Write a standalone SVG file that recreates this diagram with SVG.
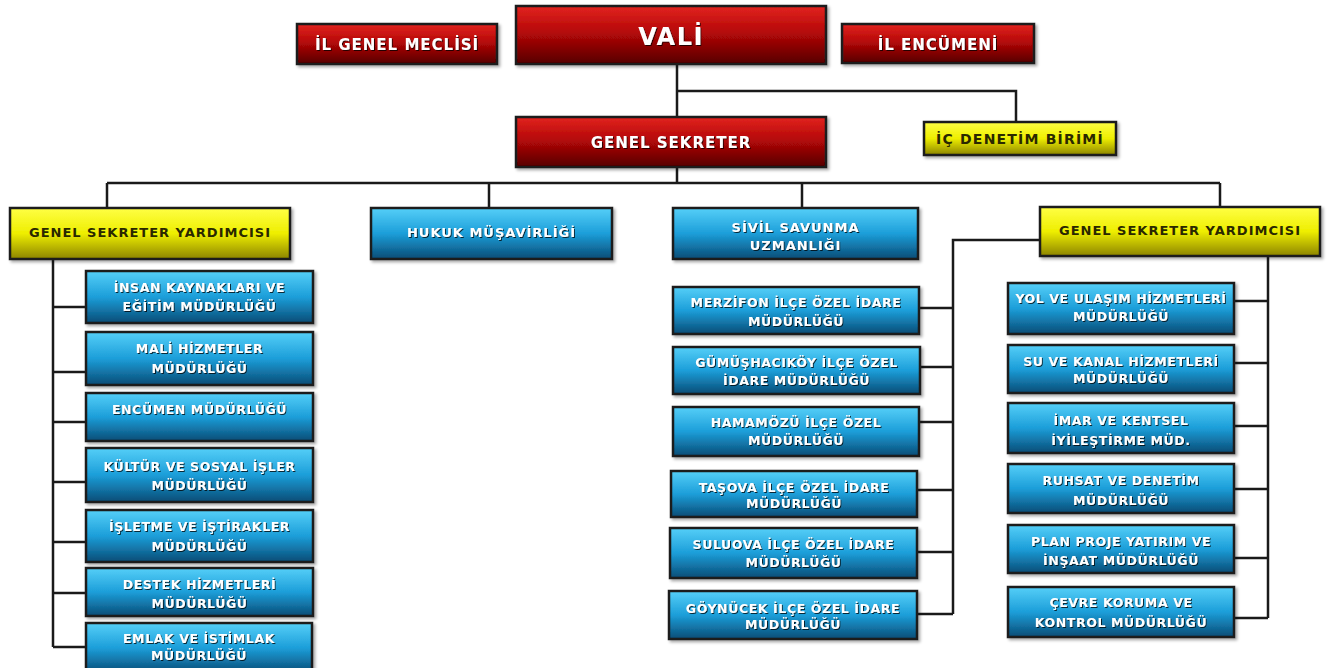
<svg xmlns="http://www.w3.org/2000/svg" width="1339" height="668" viewBox="0 0 1339 668">
<defs>
<linearGradient id="gRed" x1="0" y1="0" x2="0" y2="1">
<stop offset="0" stop-color="#e2241f"/><stop offset="0.45" stop-color="#b50808"/><stop offset="1" stop-color="#560000"/>
</linearGradient>
<linearGradient id="gBlue" x1="0" y1="0" x2="0" y2="1">
<stop offset="0" stop-color="#55cff8"/><stop offset="0.5" stop-color="#1c9ed9"/><stop offset="1" stop-color="#0a4c76"/>
</linearGradient>
<linearGradient id="gYel" x1="0" y1="0" x2="0" y2="1">
<stop offset="0" stop-color="#ffff45"/><stop offset="0.5" stop-color="#eeee00"/><stop offset="1" stop-color="#8c8400"/>
</linearGradient>
<filter id="sh" x="-5%" y="-10%" width="115%" height="130%">
<feDropShadow dx="2" dy="2" stdDeviation="1.5" flood-color="#000" flood-opacity="0.35"/>
</filter>
<filter id="tsh" x="-5%" y="-20%" width="110%" height="150%">
<feDropShadow dx="1" dy="1" stdDeviation="0.6" flood-color="#000" flood-opacity="0.75"/>
</filter>
</defs>
<style>
rect{stroke:#1a1a1a;stroke-width:2.5;filter:url(#sh)}
.r{fill:url(#gRed)}
.b{fill:url(#gBlue)}
.y{fill:url(#gYel)}
text{font-family:"DejaVu Sans","Liberation Sans",sans-serif;font-weight:bold;text-anchor:middle}
.tw{fill:#ffffff;filter:url(#tsh)}
.td{fill:#2a2800}
.big{font-size:15px;letter-spacing:1px}
.vali{font-size:24px;letter-spacing:1.5px}
.m{font-size:13px;letter-spacing:1px}
.s{font-size:12.5px;letter-spacing:0.6px}
#connectors path{fill:none;stroke:#1a1a1a;stroke-width:2.5}
</style>
<rect x="0" y="0" width="1339" height="668" fill="#ffffff" style="stroke:none;filter:none"/>
<g id="connectors">
<path d="M677 64V117M677 91H1016V122M677 167V183M107 183H1220M107 183V208M489 183V208M802 183V208M1220 183V207"/>
<path d="M53 259V647M53 307H86M53 372H86M53 422H86M53 482H86M53 542H86M53 593H86M53 647H86"/>
<path d="M1040 240H953V614M919 308H953M920 367H953M919 422H953M917 490H953M917 552H953M917 614H953"/>
<path d="M1268 256V618M1234 301H1268M1234 363H1268M1234 426H1268M1234 489H1268M1234 558H1268M1234 618H1268"/>
</g>
<g id="il-genel-meclisi"><rect class="r" x="297" y="24" width="200" height="40"/><text class="tw big" x="397" y="50">İL GENEL MECLİSİ</text></g>
<g id="vali"><rect class="r" x="516" y="6" width="310" height="58"/><text class="tw vali" x="671" y="45">VALİ</text></g>
<g id="il-encumeni"><rect class="r" x="842" y="24" width="192" height="39"/><text class="tw big" x="938" y="50">İL ENCÜMENİ</text></g>
<g id="genel-sekreter"><rect class="r" x="516" y="117" width="310" height="50"/><text class="tw big" x="671" y="148">GENEL SEKRETER</text></g>
<g id="ic-denetim-birimi"><rect class="y" x="924" y="122" width="192" height="33"/><text class="td" x="1020" y="143.5" style="font-size:14px;letter-spacing:1.2px">İÇ DENETİM BİRİMİ</text></g>
<g id="gsy-sol"><rect class="y" x="10" y="208" width="280" height="51"/><text class="td m" x="150" y="237">GENEL SEKRETER YARDIMCISI</text></g>
<g id="hukuk"><rect class="b" x="371" y="208" width="241" height="51"/><text class="tw m" x="491.5" y="237">HUKUK MÜŞAVİRLİĞİ</text></g>
<g id="sivil-savunma"><rect class="b" x="673" y="208" width="245" height="51"/><text class="tw m" x="795.5" y="232">SİVİL SAVUNMA</text><text class="tw m" x="795.5" y="250">UZMANLIĞI</text></g>
<g id="gsy-sag"><rect class="y" x="1040" y="207" width="280" height="49"/><text class="td m" x="1180" y="235">GENEL SEKRETER YARDIMCISI</text></g>

<g id="insan-kaynaklari"><rect class="b" x="86" y="271" width="227" height="52"/><text class="tw s" x="199.5" y="292">İNSAN KAYNAKLARI VE</text><text class="tw s" x="199.5" y="311">EĞİTİM MÜDÜRLÜĞÜ</text></g>
<g id="mali-hizmetler"><rect class="b" x="86" y="332" width="227" height="53"/><text class="tw s" x="199.5" y="353">MALİ HİZMETLER</text><text class="tw s" x="199.5" y="373">MÜDÜRLÜĞÜ</text></g>
<g id="encumen"><rect class="b" x="86" y="393" width="227" height="48"/><text class="tw s" x="199.5" y="414">ENCÜMEN MÜDÜRLÜĞÜ</text></g>
<g id="kultur"><rect class="b" x="86" y="448" width="227" height="54"/><text class="tw s" x="199.5" y="471">KÜLTÜR VE SOSYAL İŞLER</text><text class="tw s" x="199.5" y="490">MÜDÜRLÜĞÜ</text></g>
<g id="isletme"><rect class="b" x="86" y="510" width="227" height="52"/><text class="tw s" x="199.5" y="531">İŞLETME VE İŞTİRAKLER</text><text class="tw s" x="199.5" y="551">MÜDÜRLÜĞÜ</text></g>
<g id="destek"><rect class="b" x="86" y="568" width="227" height="48"/><text class="tw s" x="199.5" y="589">DESTEK HİZMETLERİ</text><text class="tw s" x="199.5" y="608">MÜDÜRLÜĞÜ</text></g>
<g id="emlak"><rect class="b" x="86" y="623" width="226" height="50"/><text class="tw s" x="199" y="643">EMLAK VE İSTİMLAK</text><text class="tw s" x="199" y="660">MÜDÜRLÜĞÜ</text></g>

<g id="merzifon"><rect class="b" x="673" y="287" width="246" height="47"/><text class="tw s" x="796" y="307">MERZİFON İLÇE ÖZEL İDARE</text><text class="tw s" x="796" y="326">MÜDÜRLÜĞÜ</text></g>
<g id="gumushacikoy"><rect class="b" x="673" y="347" width="247" height="47"/><text class="tw s" x="796.5" y="367">GÜMÜŞHACIKÖY İLÇE ÖZEL</text><text class="tw s" x="796.5" y="385">İDARE MÜDÜRLÜĞÜ</text></g>
<g id="hamamozu"><rect class="b" x="673" y="407" width="246" height="49"/><text class="tw s" x="796" y="427">HAMAMÖZÜ İLÇE ÖZEL</text><text class="tw s" x="796" y="445">MÜDÜRLÜĞÜ</text></g>
<g id="tasova"><rect class="b" x="671" y="471" width="246" height="46"/><text class="tw s" x="794" y="492">TAŞOVA İLÇE ÖZEL İDARE</text><text class="tw s" x="794" y="508">MÜDÜRLÜĞÜ</text></g>
<g id="suluova"><rect class="b" x="670" y="528" width="247" height="50"/><text class="tw s" x="793.5" y="549">SULUOVA İLÇE ÖZEL İDARE</text><text class="tw s" x="793.5" y="567">MÜDÜRLÜĞÜ</text></g>
<g id="goynucek"><rect class="b" x="669" y="591" width="248" height="48"/><text class="tw s" x="793" y="613">GÖYNÜCEK İLÇE ÖZEL İDARE</text><text class="tw s" x="793" y="629">MÜDÜRLÜĞÜ</text></g>

<g id="yol-ulasim"><rect class="b" x="1008" y="283" width="226" height="51"/><text class="tw s" x="1121" y="303">YOL VE ULAŞIM HİZMETLERİ</text><text class="tw s" x="1121" y="321">MÜDÜRLÜĞÜ</text></g>
<g id="su-kanal"><rect class="b" x="1008" y="345" width="226" height="48"/><text class="tw s" x="1121" y="366">SU VE KANAL HİZMETLERİ</text><text class="tw s" x="1121" y="383">MÜDÜRLÜĞÜ</text></g>
<g id="imar"><rect class="b" x="1008" y="403" width="226" height="50"/><text class="tw s" x="1121" y="425">İMAR VE KENTSEL</text><text class="tw s" x="1121" y="445">İYİLEŞTİRME MÜD.</text></g>
<g id="ruhsat"><rect class="b" x="1008" y="464" width="226" height="49"/><text class="tw s" x="1121" y="485">RUHSAT VE DENETİM</text><text class="tw s" x="1121" y="505">MÜDÜRLÜĞÜ</text></g>
<g id="plan-proje"><rect class="b" x="1008" y="525" width="226" height="48"/><text class="tw s" x="1121" y="546">PLAN PROJE YATIRIM VE</text><text class="tw s" x="1121" y="565">İNŞAAT MÜDÜRLÜĞÜ</text></g>
<g id="cevre"><rect class="b" x="1008" y="587" width="226" height="50"/><text class="tw s" x="1121" y="607">ÇEVRE KORUMA VE</text><text class="tw s" x="1121" y="627">KONTROL MÜDÜRLÜĞÜ</text></g>
</svg>
